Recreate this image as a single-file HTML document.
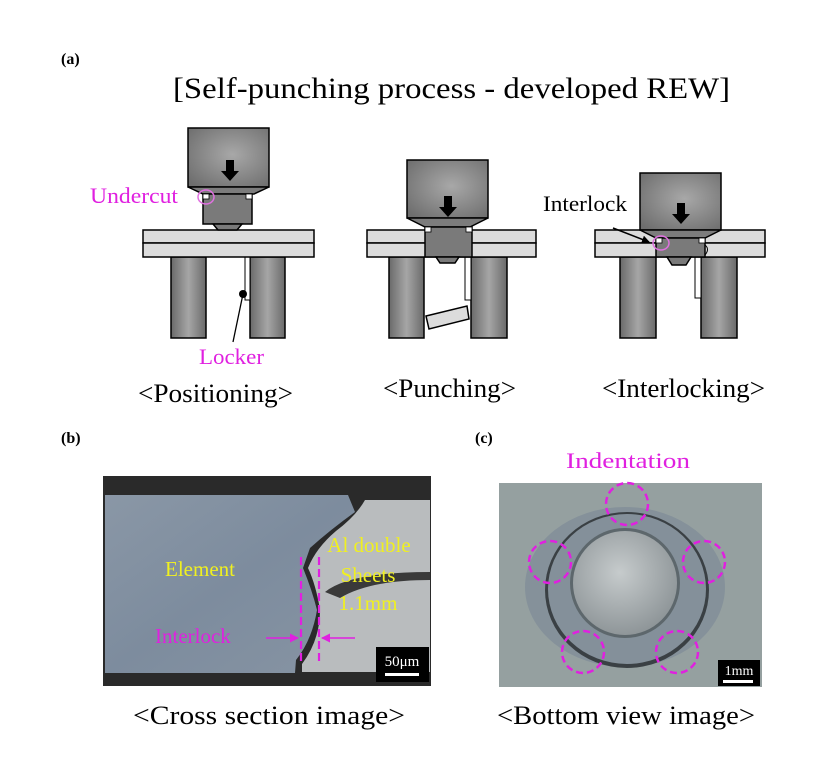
<!DOCTYPE html>
<html><head><meta charset="utf-8"><style>
html,body{margin:0;padding:0;background:#fff;}
svg{display:block;}
text{font-family:"Liberation Serif",serif;}
</style></head><body>
<svg width="827" height="771" viewBox="0 0 827 771" xmlns="http://www.w3.org/2000/svg">
<defs>
<radialGradient id="g1" cx="0.55" cy="0.45" r="0.7"><stop offset="0" stop-color="#a8a8a8"/><stop offset="1" stop-color="#6e6e6e"/></radialGradient>
<linearGradient id="gd" x1="0" x2="1"><stop offset="0" stop-color="#6a6a6a"/><stop offset="0.5" stop-color="#a6a6a6"/><stop offset="1" stop-color="#6a6a6a"/></linearGradient>
<linearGradient id="elem" x1="0" x2="1" y1="0" y2="1"><stop offset="0" stop-color="#8a97a6"/><stop offset="0.5" stop-color="#7d8c9e"/><stop offset="1" stop-color="#8794a3"/></linearGradient>
<radialGradient id="disc" cx="0.45" cy="0.4" r="0.6"><stop offset="0" stop-color="#c6cbcc"/><stop offset="1" stop-color="#8f9699"/></radialGradient>
<marker id="ah" markerWidth="8" markerHeight="8" refX="7" refY="4" orient="auto" markerUnits="userSpaceOnUse"><path d="M0,0 L8,4 L0,8z" fill="#000"/></marker>
<marker id="mh" markerWidth="9" markerHeight="9" refX="8" refY="4.5" orient="auto" markerUnits="userSpaceOnUse"><path d="M0,0 L9,4.5 L0,9z" fill="#e020e0"/></marker>
</defs>

<text x="61" y="64" font-size="16" font-weight="bold">(a)</text>
<text x="173" y="98" font-size="30" textLength="557" lengthAdjust="spacingAndGlyphs">[Self-punching process - developed REW]</text>

<g stroke="#000" stroke-width="1.5">
<rect x="171" y="257" width="35" height="81" fill="url(#gd)"/>
<rect x="250" y="257" width="35" height="81" fill="url(#gd)"/>
<rect x="245" y="257" width="5" height="43" fill="#fff" stroke-width="1"/>
<rect x="143" y="230" width="171" height="13" fill="#dcdcdc"/>
<rect x="143" y="243" width="171" height="14" fill="#dcdcdc"/>
<rect x="188" y="128" width="81" height="59" fill="url(#g1)"/>
<polygon points="188,187 269,187 254,194 203,194" fill="#7c7c7c"/>
<rect x="203" y="194" width="49" height="30" fill="#7a7a7a"/>
<polygon points="213,224 242,224 237,230 218,230" fill="#7a7a7a"/>
<rect x="389" y="257" width="35" height="81" fill="url(#gd)"/>
<rect x="471" y="257" width="36" height="81" fill="url(#gd)"/>
<rect x="465" y="257" width="6" height="43" fill="#fff" stroke-width="1"/>
<polygon points="426,316 467,306 469,319 429,329" fill="#dcdcdc"/>
<rect x="367" y="230" width="169" height="13" fill="#dcdcdc"/>
<rect x="367" y="243" width="169" height="14" fill="#dcdcdc"/>
<rect x="407" y="160" width="81" height="58" fill="url(#g1)"/>
<polygon points="407,218 488,218 470,227 425,227" fill="#7c7c7c"/>
<rect x="425" y="227" width="47" height="30" fill="#7a7a7a"/>
<polygon points="436,257 459,257 455,263 440,263" fill="#7a7a7a"/>
<rect x="620" y="257" width="36" height="81" fill="url(#gd)"/>
<rect x="701" y="257" width="36" height="81" fill="url(#gd)"/>
<rect x="695" y="257" width="6" height="41" fill="#fff" stroke-width="1"/>
<rect x="595" y="230" width="170" height="13" fill="#dcdcdc"/>
<rect x="595" y="243" width="170" height="14" fill="#dcdcdc"/>
<rect x="640" y="173" width="81" height="57" fill="url(#g1)"/>
<polygon points="640,230 721,230 705,238 656,238" fill="#7c7c7c"/>
<rect x="656" y="238" width="49" height="19" fill="#7a7a7a"/>
<polygon points="667,257 691,257 686,265 672,265" fill="#7a7a7a"/>
<path d="M705,245 q5,4 0,10" fill="none" stroke-width="1"/>
</g>
<g fill="#fff" stroke="#000" stroke-width="0.8">
<rect x="203" y="194" width="6" height="5"/><rect x="246" y="194" width="6" height="5"/>
<rect x="425" y="227" width="6" height="5"/><rect x="466" y="227" width="6" height="5"/>
<rect x="656" y="238" width="6" height="5"/><rect x="699" y="238" width="6" height="5"/>
</g>
<g fill="#000">
<polygon points="226,160 234,160 234,171 239,171 230,181 221,171 226,171"/>
<polygon points="444,196 452,196 452,207 457,207 448,217 439,207 444,207"/>
<polygon points="677,203 685,203 685,214 690,214 681,224 672,214 677,214"/>
</g>
<circle cx="243" cy="294" r="4" fill="#000"/>
<line x1="243" y1="294" x2="233" y2="342" stroke="#000" stroke-width="1.3"/>
<ellipse cx="206" cy="197" rx="8" ry="7" fill="none" stroke="#e070e0" stroke-width="1.5"/>
<ellipse cx="661" cy="243" rx="8" ry="7" fill="none" stroke="#e070e0" stroke-width="1.5"/>
<line x1="613" y1="228" x2="649" y2="242" stroke="#000" stroke-width="1.5" marker-end="url(#ah)"/>

<g font-size="22" fill="#e020e0">
<text x="90" y="203" textLength="88" lengthAdjust="spacingAndGlyphs">Undercut</text>
<text x="199" y="364" textLength="65" lengthAdjust="spacingAndGlyphs">Locker</text>
</g>
<text x="543" y="211" font-size="22" textLength="84" lengthAdjust="spacingAndGlyphs">Interlock</text>
<g font-size="26" lengthAdjust="spacingAndGlyphs">
<text x="138" y="402" textLength="155" lengthAdjust="spacingAndGlyphs">&lt;Positioning&gt;</text>
<text x="383" y="397" textLength="133" lengthAdjust="spacingAndGlyphs">&lt;Punching&gt;</text>
<text x="602" y="397" textLength="163" lengthAdjust="spacingAndGlyphs">&lt;Interlocking&gt;</text>
</g>

<text x="61" y="443" font-size="16" font-weight="bold">(b)</text>
<text x="475" y="443" font-size="16" font-weight="bold">(c)</text>
<text x="566" y="468" font-size="22" fill="#e020e0" textLength="124" lengthAdjust="spacingAndGlyphs">Indentation</text>

<rect x="103" y="476" width="328" height="210" fill="#2a2a2a"/>
<path d="M105,495 L348,495 L355,512 Q330,530 310,548 L303,568 Q312,590 317,610 Q312,640 296,660 L295,673 L105,673 Z" fill="url(#elem)"/>
<path d="M365,500 L430,500 L430,672 L302,672 L302,664 Q320,640 320,610 Q316,585 308,568 Q316,548 336,531 Q356,516 365,500 Z" fill="#b9bcbe"/>
<path d="M325,592 Q350,572 430,572 L430,580 Q370,580 340,598 Z" fill="#3a3a3a"/>
<g font-size="21" fill="#f0f020" text-anchor="middle">
<text x="200" y="576">Element</text>
<text x="369" y="552">Al double</text>
<text x="368" y="582">Sheets</text>
<text x="368" y="610">1.1mm</text>
</g>
<text x="155" y="643" font-size="21" fill="#e020e0">Interlock</text>
<g stroke="#e020e0" stroke-width="2.2" stroke-dasharray="8,4">
<line x1="301" y1="557" x2="301" y2="664"/><line x1="319" y1="557" x2="319" y2="664"/>
</g>
<line x1="266" y1="638" x2="298" y2="638" stroke="#e020e0" stroke-width="1.5" marker-end="url(#mh)"/>
<line x1="355" y1="638" x2="322" y2="638" stroke="#e020e0" stroke-width="1.5" marker-end="url(#mh)"/>
<rect x="376" y="647" width="53" height="35" fill="#000"/>
<text x="402" y="666" font-size="15" fill="#fff" text-anchor="middle">50μm</text>
<rect x="385" y="673" width="34" height="3" fill="#fff"/>
<text x="133" y="724" font-size="26" textLength="272" lengthAdjust="spacingAndGlyphs">&lt;Cross section image&gt;</text>

<rect x="499" y="483" width="263" height="204" fill="#95a0a0"/>
<ellipse cx="625" cy="587" rx="100" ry="80" fill="#85919a"/>
<ellipse cx="627" cy="590" rx="82" ry="78" fill="#3a4044"/>
<ellipse cx="627" cy="589" rx="79" ry="75" fill="#84909a"/>
<circle cx="625" cy="583" r="55" fill="#5d676c"/>
<circle cx="625" cy="583" r="52" fill="url(#disc)"/>
<g fill="none" stroke="#e020e0" stroke-width="2.5" stroke-dasharray="7,4">
<circle cx="627" cy="504" r="21"/><circle cx="550" cy="562" r="21"/><circle cx="704" cy="562" r="21"/>
<circle cx="583" cy="652" r="21"/><circle cx="677" cy="652" r="21"/>
</g>
<rect x="718" y="660" width="42" height="26" fill="#000"/>
<text x="739" y="675" font-size="14" fill="#fff" text-anchor="middle">1mm</text>
<rect x="723" y="680" width="30" height="3" fill="#fff"/>
<text x="497" y="724" font-size="26" textLength="258" lengthAdjust="spacingAndGlyphs">&lt;Bottom view image&gt;</text>
</svg>
</body></html>
